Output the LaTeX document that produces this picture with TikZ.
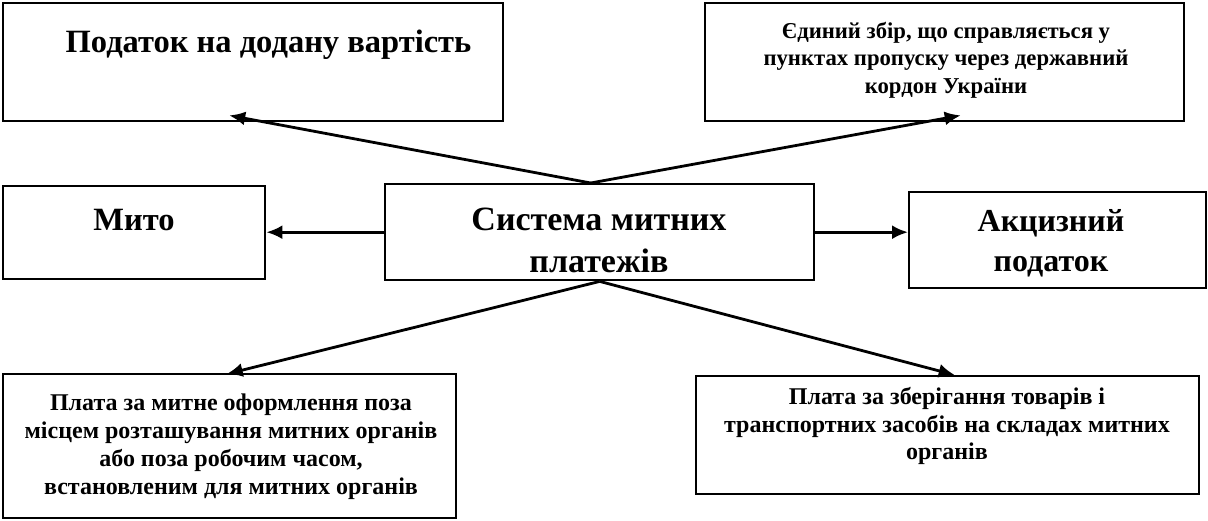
\documentclass[tikz,border=0pt]{standalone}
\usepackage{fontspec}
\setmainfont{Liberation Serif}
\usetikzlibrary{arrows.meta,calc}
\begin{document}
\begin{tikzpicture}[x=1pt,y=-1pt,
  box/.style={draw,line width=2.4pt,inner sep=0pt,anchor=north west},
  lbl/.style={font=\bfseries,align=center,inner sep=0pt},
  conn/.style={line width=2.8pt,-{Latex[length=16pt,width=14pt]}}]
\useasboundingbox (0,0) rectangle (1208,520);
% boxes
\node[box,minimum width=500pt,minimum height=118pt] (pdv) at (2,2) {};
\node[box,minimum width=479pt,minimum height=118pt] (edy) at (704,2) {};
\node[box,minimum width=262pt,minimum height=93pt] (myto) at (2,185) {};
\node[box,minimum width=429pt,minimum height=96pt] (sys) at (384,183) {};
\node[box,minimum width=297pt,minimum height=96pt] (akc) at (908,191) {};
\node[box,minimum width=453pt,minimum height=144pt] (bl) at (2,373) {};
\node[box,minimum width=503pt,minimum height=118pt] (br) at (695,375) {};
% texts
\node[lbl,font=\bfseries\fontsize{32.5}{38}\selectfont] (pdvt) at (268.5,45) {Податок на додану вартість};
\node[lbl,font=\bfseries\fontsize{22.7}{27.5}\selectfont] (edyt) at (946,60) {Єдиний збір, що справляється у\\пунктах пропуску через державний\\кордон України};
\node[lbl,font=\bfseries\fontsize{32.5}{38}\selectfont] (mytot) at (134,220) {Мито};
\node[lbl,font=\bfseries\fontsize{34}{42}\selectfont] (syst) at (599,240) {Система митних\\платежів};
\node[lbl,font=\bfseries\fontsize{32}{40}\selectfont] (akct) at (1051,243) {Акцизний\\податок};
\node[lbl,font=\bfseries\fontsize{24}{28}\selectfont] (blt) at (231,447) {Плата за митне оформлення поза\\місцем розташування митних органів\\або поза робочим часом,\\встановленим для митних органів};
\node[lbl,font=\bfseries\fontsize{24}{27.5}\selectfont] (brt) at (947,426) {Плата за зберігання товарів і\\транспортних засобів на складах митних\\органів};
% connectors
\coordinate (top) at ($(sys.north)+(-9,0)$);
\draw[conn] (top) -- ($(pdv.south)+(-24,-7)$);
\draw[conn] (top) -- ($(edy.south)+(16,-7)$);
\draw[conn] (sys.west) -- (sys.west -| myto.east);
\draw[conn] (sys.east) -- (sys.east -| akc.west);
\draw[conn] (sys.south) -- ($(bl.north)+(-3,1)$);
\draw[conn] (sys.south) -- ($(br.north)+(7,0)$);
\end{tikzpicture}
\end{document}
